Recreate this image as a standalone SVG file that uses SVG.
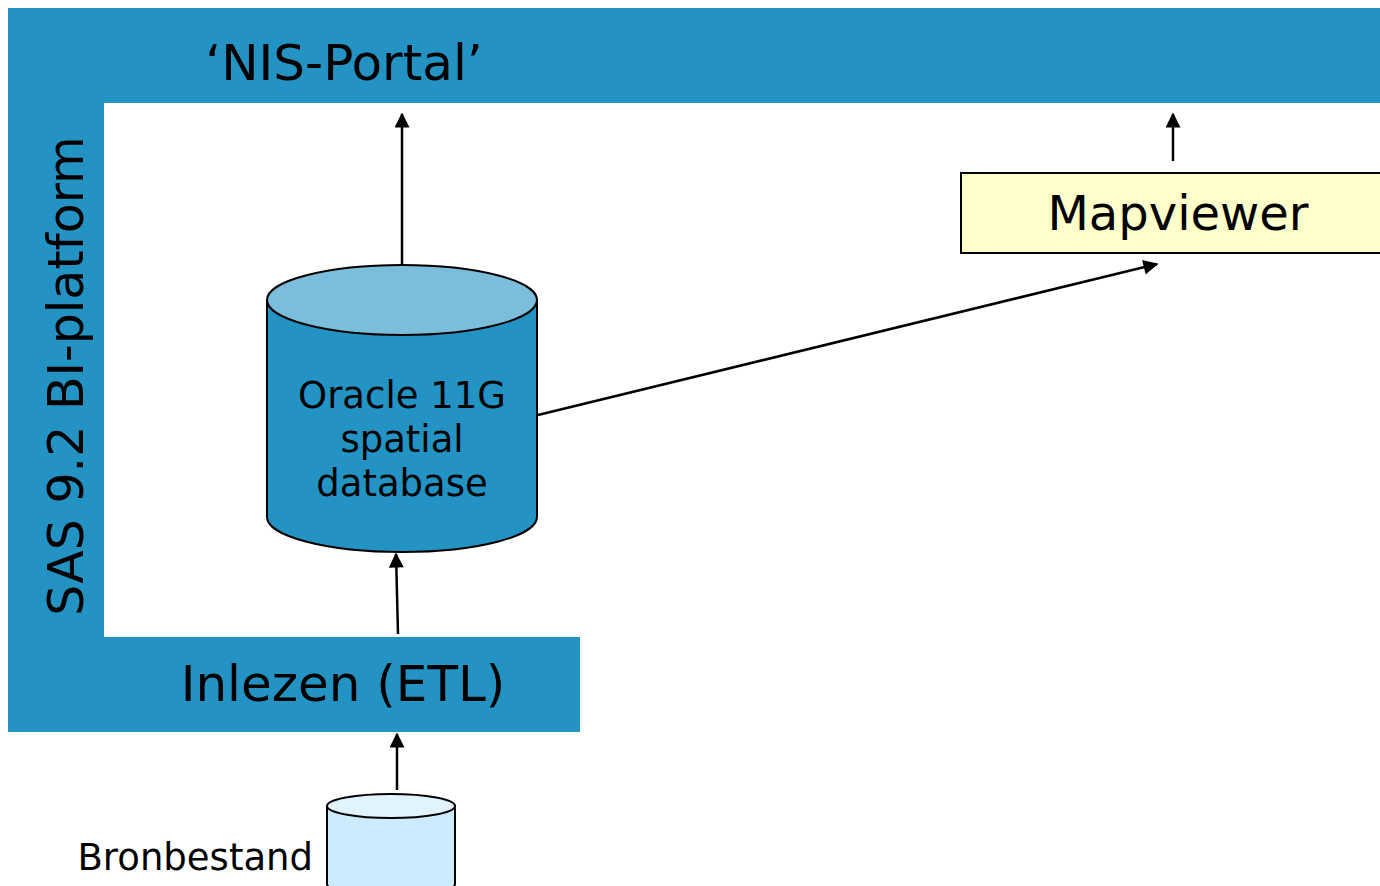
<svg xmlns="http://www.w3.org/2000/svg" width="1380" height="886" viewBox="0 0 1380 886">
<style>
.band{fill:#2393C4}
.t{font-family:"DejaVu Sans",Verdana,sans-serif;fill:#000}
.ln{stroke:#000;stroke-width:2.5;fill:none}
.cs{stroke:#000;stroke-width:2}
</style>
<defs>
<marker id="ah" viewBox="0 0 10 10" refX="9" refY="5" markerWidth="6.4" markerHeight="6" orient="auto" markerUnits="strokeWidth">
<path d="M0,0 L10,5 L0,10 z" fill="#000"/>
</marker>
</defs>
<rect width="1380" height="886" fill="#fff"/>
<g id="sas-platform">
<path class="band" d="M8,8 H1380 V103 H104 V637 H580 V732 H8 Z"/>
<text class="t" x="344" y="80" font-size="50" text-anchor="middle">‘NIS-Portal’</text>
<text class="t" font-size="49" text-anchor="middle" transform="translate(83,376) rotate(-90)">SAS 9.2 BI-platform</text>
<text class="t" x="343" y="701" font-size="50" text-anchor="middle">Inlezen (ETL)</text>
</g>
<g id="oracle-db">
<path class="cs" fill="#2393C4" d="M267,300 V517 A135,35 0 0 0 537,517 V300 Z"/>
<ellipse class="cs" cx="402" cy="300" rx="135" ry="35" fill="#7BBEDC"/>
<text class="t" font-size="37" text-anchor="middle"><tspan x="402" y="408">Oracle 11G</tspan><tspan x="402" y="452">spatial</tspan><tspan x="402" y="496">database</tspan></text>
</g>
<g id="mapviewer">
<rect x="961" y="173" width="420" height="80" fill="#FFFFCC" stroke="#000" stroke-width="2"/>
<text class="t" x="1178" y="230" font-size="48" text-anchor="middle">Mapviewer</text>
</g>
<g id="bronbestand">
<path class="cs" fill="#CCEBFF" d="M327,806 V884 A64,12 0 0 0 455,884 V806 Z"/>
<ellipse class="cs" cx="391" cy="806" rx="64" ry="12" fill="#E0F3FF"/>
<text class="t" x="313" y="870" font-size="37" text-anchor="end">Bronbestand</text>
</g>
<g id="connectors">
<line class="ln" x1="402" y1="265" x2="402" y2="114" marker-end="url(#ah)"/>
<line class="ln" x1="1173" y1="161" x2="1173" y2="114" marker-end="url(#ah)"/>
<line class="ln" x1="538" y1="415" x2="1157" y2="264" marker-end="url(#ah)"/>
<line class="ln" x1="398" y1="634" x2="396" y2="554" marker-end="url(#ah)"/>
<line class="ln" x1="397" y1="790" x2="397" y2="734" marker-end="url(#ah)"/>
</g>
</svg>
